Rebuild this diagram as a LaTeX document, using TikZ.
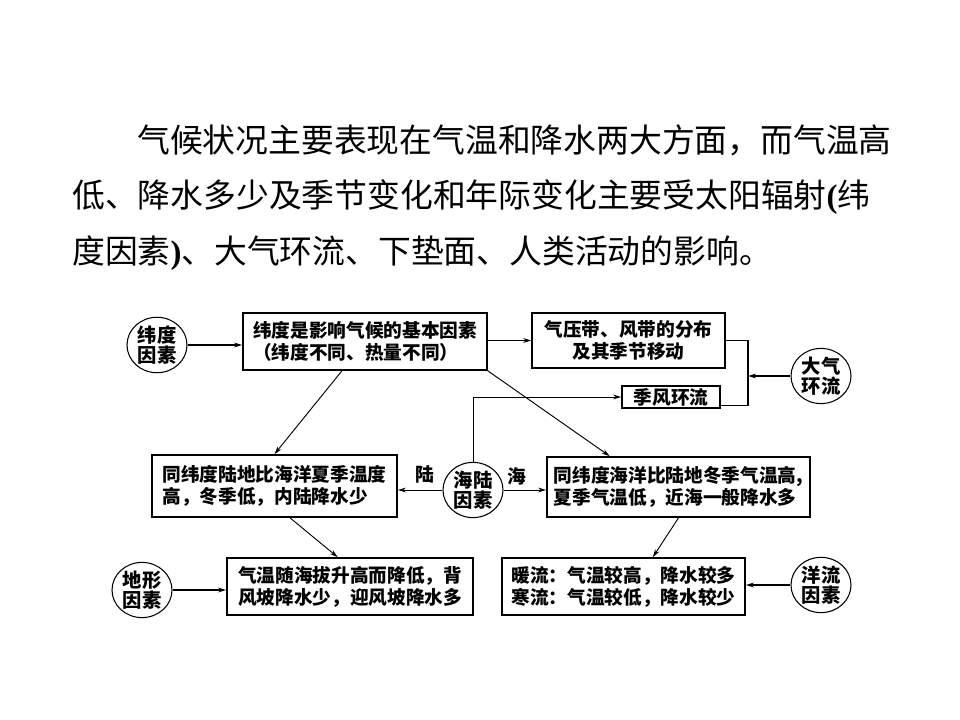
\documentclass[tikz,border=0pt]{standalone}
\usepackage{fontspec}
\setmainfont{Liberation Serif}
\newfontfamily\cjk{Noto Sans CJK SC}
\usetikzlibrary{shapes.geometric,arrows.meta,calc}
\begin{document}
\begin{tikzpicture}[x=0.75pt,y=-0.75pt,
  box/.style={draw,line width=1.3pt,inner sep=2pt,font=\cjk\bfseries\fontsize{14}{16.5}\selectfont},
  fac/.style={draw,ellipse,line width=0.8pt,minimum width=45pt,minimum height=40.5pt,inner sep=0pt,align=center,font=\cjk\bfseries\fontsize{14.5}{15.5}\selectfont},
  arr/.style={-{Stealth[length=6pt,width=3.6pt]},line width=0.7pt},
  tarr/.style={-{Stealth[length=6pt,width=3.6pt]},line width=1.2pt},
  para/.style={anchor=west,inner sep=0pt,font=\cjk\fontsize{24.6}{30}\selectfont},
  lab/.style={inner sep=0pt,font=\cjk\bfseries\fontsize{14}{16}\selectfont}]
\useasboundingbox (0,0) rectangle (960,720);
% paragraph
\node[para] (p1) at (137,140) {气候状况主要表现在气温和降水两大方面，而气温高};
\node[para] (p2) at (72,197) {低、降水多少及季节变化和年际变化主要受太阳辐射{\rmfamily\bfseries (}纬};
\node[para] (p3) at (72,253) {度因素{\rmfamily\bfseries )}、大气环流、下垫面、人类活动的影响。};
% boxes
\node[box,minimum width=183pt,minimum height=42.75pt,align=left] (b1) at (365,341.5) {纬度是影响气候的基本因素\\（纬度不同、热量不同）};
\node[box,minimum width=144.75pt,minimum height=41.25pt,align=center] (b2) at (628.5,340.5) {气压带、风带的分布\\及其季节移动};
\node[box,minimum width=73.5pt,minimum height=16.5pt,inner sep=1pt] (b3) at (671,397) {季风环流};
\node[box,minimum width=183.75pt,minimum height=46.5pt,align=left] (b4) at (274.5,486) {同纬度陆地比海洋夏季温度\\高，冬季低，内陆降水少\hphantom{高}};
\node[box,minimum width=197.25pt,minimum height=45pt,align=left] (b5) at (678.5,487) {同纬度海洋比陆地冬季气温高,\\夏季气温低，近海一般降水多};
\node[box,minimum width=184.5pt,minimum height=42.75pt,align=left] (b6) at (350,586.5) {气温随海拔升高而降低，背\\风坡降水少，迎风坡降水多};
\node[box,minimum width=182.25pt,minimum height=42.75pt,align=left] (b7) at (623.5,586.5) {暖流：气温较高，降水较多\\寒流：气温较低，降水较少};
% factors
\node[fac] (c1) at (157,345) {纬度\\因素};
\node[fac] (c2) at (821,376) {大气\\环流};
\node[fac] (c3) at (473,490) {海陆\\因素};
\node[fac] (c4) at (142,590) {地形\\因素};
\node[fac] (c5) at (821,585) {洋流\\因素};
% connectors
\draw[tarr] (c1.east) -- (c1.east -| b1.west);
\draw[tarr] (b1.east |- b2.west) -- (b2.west);
\coordinate (bk) at (748,376);
\draw[line width=0.8pt] (b2.east) -| (bk) |- ($(b3.south east)+(0,-3)$);
\draw[tarr] (c2.west) -- (bk);
\draw[arr] (c3.north) |- (b3.west);
\draw[arr] ($(b1.south west)!0.406!(b1.south east)$) -- (b4.north);
\draw[arr] (b1.south east) -- ($(b5.north west)!0.24!(b5.north east)$);
\draw[arr] (c3.west) -- (c3.west -| b4.east);
\draw[arr] (c3.east) -- (c3.east -| b5.west);
\node[lab] (l1) at (425,474) {陆};
\node[lab] (l2) at (517,476) {海};
\draw[arr] ($(b4.south west)!0.563!(b4.south east)$) -- ($(b6.north west)!0.45!(b6.north east)$);
\draw[arr] (b5.south) -- ($(b7.north west)!0.62!(b7.north east)$);
\draw[tarr] (c4.east) -- (c4.east -| b6.west);
\draw[tarr] (c5.west) -- (c5.west -| b7.east);
\end{tikzpicture}
\end{document}
